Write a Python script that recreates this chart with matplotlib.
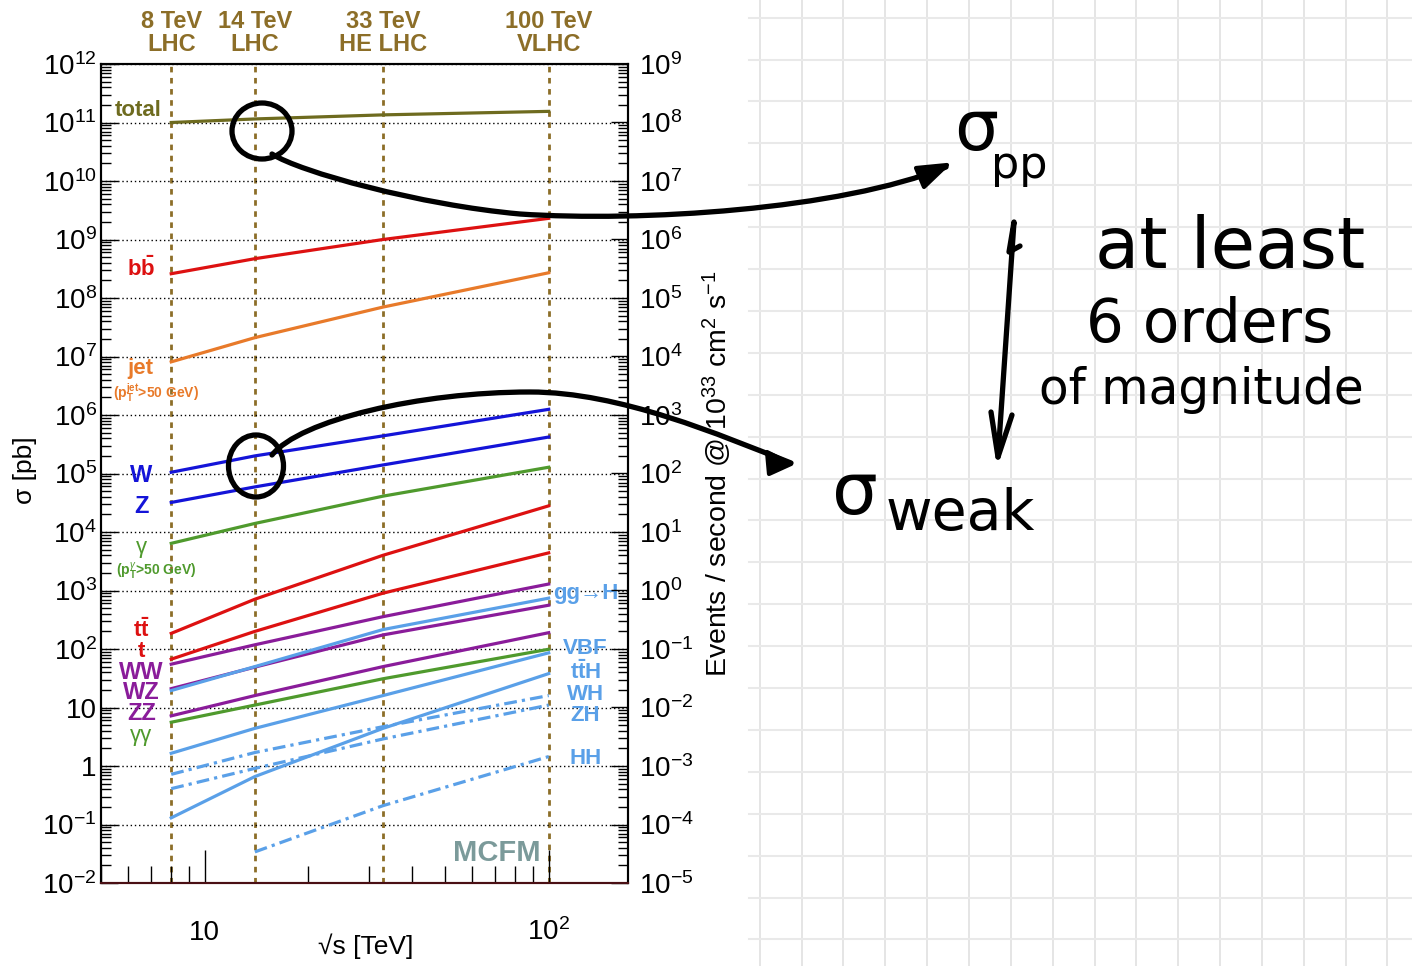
import numpy as np
import matplotlib.pyplot as plt
from matplotlib.ticker import FixedLocator, LogLocator, FuncFormatter, NullFormatter
from matplotlib.path import Path
from matplotlib.patches import PathPatch, Ellipse, Polygon

plt.rcParams['font.family'] = ['Liberation Sans', 'DejaVu Sans']
plt.rcParams['mathtext.fontset'] = 'custom'
plt.rcParams['mathtext.rm'] = 'Liberation Sans'
plt.rcParams['mathtext.it'] = 'Liberation Sans:italic'
plt.rcParams['mathtext.bf'] = 'Liberation Sans:bold'

# collider energies [TeV]
energies = [8, 14, 33, 100]
energies_HH = [14, 33, 100]
colliders = ['8 TeV\nLHC', '14 TeV\nLHC', '33 TeV\nHE LHC', '100 TeV\nVLHC']

# cross sections [pb]
sigma_total = [1.0e11, 1.15e11, 1.35e11, 1.55e11]
sigma_bb = [2.6e8, 4.7e8, 1.0e9, 2.3e9]
sigma_jet = [8.1e6, 2.1e7, 7.0e7, 2.7e8]
sigma_W = [1.05e5, 2.0e5, 4.4e5, 1.25e6]
sigma_Z = [3.2e4, 5.9e4, 1.4e5, 4.2e5]
sigma_gamma = [6.4e3, 1.4e4, 4.1e4, 1.28e5]
sigma_tt = [185, 710, 4.0e3, 2.8e4]
sigma_t = [67, 200, 900, 4.4e3]
sigma_WW = [55, 118, 357, 1.29e3]
sigma_WZ = [21, 49, 174, 560]
sigma_ZZ = [7.2, 16, 50, 190]
sigma_gaga = [5.6, 11, 31, 99]
sigma_ggH = [19.5, 50, 215, 740]
sigma_VBF = [1.65, 4.4, 16, 86]
sigma_ttH = [0.13, 0.66, 4.4, 38]
sigma_WH = [0.72, 1.7, 4.7, 16]
sigma_ZH = [0.41, 0.91, 2.9, 11]
sigma_HH = [0.034, 0.21, 1.45]

c_total = '#6e6b1f'
c_red = '#dd1111'
c_orange = '#e87a2a'
c_blue = '#1414d8'
c_green = '#4f9a2d'
c_purple = '#8a1c9a'
c_lblue = '#5aa0e8'
c_brown = '#8c6e28'

W, H = 1412, 966
fig = plt.figure(figsize=(W / 100, H / 100), dpi=100)

# squared paper on the right
bg = fig.add_axes([0, 0, 1, 1], zorder=0)
bg.set_xlim(0, W)
bg.set_ylim(H, 0)
bg.axis('off')
for gx in np.arange(759.7, W, 41.85):
    bg.plot([gx, gx], [0, H], color='#e0e0e0', lw=1.2)
for gy in np.arange(17.7, H, 41.9):
    bg.plot([749, W], [gy, gy], color='#e9e9e9', lw=1.5)

# main plot
ax = fig.add_axes([101 / W, 1 - 883 / H, 527 / W, 819 / H], zorder=1)
ax.set_xscale('log')
ax.set_yscale('log')
ax.set_xlim(5, 170)
ax.set_ylim(1e-2, 1e12)

for e in energies:
    ax.axvline(e, color=c_brown, lw=2.0, linestyle=(0, (2, 2)), zorder=1.5)

solid = [(sigma_total, c_total), (sigma_bb, c_red), (sigma_jet, c_orange),
         (sigma_W, c_blue), (sigma_Z, c_blue), (sigma_gamma, c_green),
         (sigma_tt, c_red), (sigma_t, c_red), (sigma_WW, c_purple),
         (sigma_WZ, c_purple), (sigma_ZZ, c_purple), (sigma_gaga, c_green),
         (sigma_ggH, c_lblue), (sigma_VBF, c_lblue), (sigma_ttH, c_lblue)]
for y, c in solid:
    ax.plot(energies, y, color=c, lw=2.3, zorder=3)
for y in [sigma_WH, sigma_ZH]:
    ax.plot(energies, y, color=c_lblue, lw=2.3, dashes=(4, 1.6, 1, 1.6), zorder=3)
ax.plot(energies_HH, sigma_HH, color=c_lblue, lw=2.3, dashes=(4, 1.6, 1, 1.6), zorder=3)

# axes, ticks
ax.yaxis.set_major_locator(FixedLocator(10.0 ** np.arange(-2, 13)))
ax.yaxis.set_minor_locator(LogLocator(base=10, subs=np.arange(2, 10), numticks=100))
ax.yaxis.set_minor_formatter(NullFormatter())

def left_fmt(v, pos):
    n = int(round(np.log10(v)))
    if n == 0:
        return '1'
    if n == 1:
        return '10'
    return r'$\mathdefault{10^{%d}}$' % n

ax.yaxis.set_major_formatter(FuncFormatter(left_fmt))
ax.xaxis.set_major_locator(FixedLocator([10, 100]))
ax.xaxis.set_minor_locator(LogLocator(base=10, subs=np.arange(2, 10), numticks=100))
ax.xaxis.set_minor_formatter(NullFormatter())
ax.xaxis.set_major_formatter(FuncFormatter(lambda v, p: '10' if v < 50 else r'$\mathdefault{10^{2}}$'))
ax.tick_params(axis='y', which='major', direction='in', length=12, width=1, labelsize=20, pad=3, right=False)
ax.tick_params(axis='y', which='minor', direction='in', length=7, width=1, right=False)
ax.tick_params(axis='x', which='major', direction='in', length=24, width=1, labelsize=20, pad=41, top=False)
ax.tick_params(axis='x', which='minor', direction='in', length=12, width=1, top=False)
plt.setp(ax.get_xticklabels(), va='baseline')
ax.grid(True, which='major', axis='y', color='k', linestyle=(0, (1, 2)), lw=1.0, zorder=1)

ax2 = ax.twinx()
ax2.set_yscale('log')
ax2.set_ylim(1e-5, 1e9)
ax2.yaxis.set_major_locator(FixedLocator(10.0 ** np.arange(-5, 10)))
ax2.yaxis.set_minor_locator(LogLocator(base=10, subs=np.arange(2, 10), numticks=100))
ax2.yaxis.set_minor_formatter(NullFormatter())
ax2.yaxis.set_major_formatter(FuncFormatter(lambda v, p: r'$\mathdefault{10^{%d}}$' % int(round(np.log10(v)))))
ax2.tick_params(axis='y', which='major', direction='in', length=12, width=1, labelsize=20, pad=8)
ax2.tick_params(axis='y', which='minor', direction='in', length=7, width=1)
for a in (ax, ax2):
    for s in a.spines.values():
        s.set_linewidth(1.5)
    a.spines['bottom'].set_color('#4a0f14')

# collider labels on top
for e, lab in zip(energies, colliders):
    ax.text(e, 1.038, lab, transform=ax.get_xaxis_transform(), ha='center', va='center',
            fontsize=17, fontweight='bold', color=c_brown, linespacing=1.0)

# process labels
left_labels = [
    ('total', 6.4, 1.6e11, c_total, 16, 'bold'),
    (r'$\mathbf{b\bar{b}}$', 6.55, 3.2e8, c_red, 16, 'bold'),
    ('jet', 6.5, 6.3e6, c_orange, 16, 'bold'),
    (r'(p$_{\mathbf{T}}^{\mathbf{jet}}$>50 GeV)', 7.24, 2.3e6, c_orange, 10, 'bold'),
    ('W', 6.55, 9.3e4, c_blue, 17, 'bold'),
    ('Z', 6.55, 2.7e4, c_blue, 17, 'bold'),
    ('γ', 6.55, 5.5e3, c_green, 16, 'normal'),
    (r'(p$_{\mathbf{T}}^{γ}$>50 GeV)', 7.24, 2.1e3, c_green, 10, 'bold'),
    (r'$\mathbf{t\bar{t}}$', 6.55, 211, c_red, 16, 'bold'),
    ('t', 6.55, 89, c_red, 16, 'bold'),
    ('WW', 6.55, 40, c_purple, 17, 'bold'),
    ('WZ', 6.55, 18, c_purple, 17, 'bold'),
    ('ZZ', 6.55, 7.8, c_purple, 17, 'bold'),
    ('γγ', 6.55, 3.3, c_green, 16, 'normal'),
]
right_labels = [
    ('gg→H', 906),
    ('VBF', 104),
    (r'$\mathbf{t\bar{t}H}$', 40),
    ('WH', 17),
    ('ZH', 7.2),
    ('HH', 1.37),
]
for txt, x, y, c, fs, fw in left_labels:
    ax.text(x, y, txt, color=c, fontsize=fs, fontweight=fw, ha='center', va='center', zorder=4)
for txt, y in right_labels:
    ax.text(128, y, txt, color=c_lblue, fontsize=16, fontweight='bold', ha='center', va='center', zorder=4)
ax.text(70.5, 0.033, 'MCFM', color='#7b9a9a', fontsize=21, fontweight='bold', ha='center', va='center')

fig.text(25 / W, 1 - 470 / H, 'σ [pb]', rotation=90, ha='center', va='center', fontsize=19)
fig.text(366 / W, 1 - 946 / H, '√s [TeV]', ha='center', va='center', fontsize=19)
fig.text(717 / W, 1 - 474 / H, r'Events / second @ 10$^{33}$ cm$^{2}$ s$^{-1}$',
         rotation=90, ha='center', va='center', fontsize=20.5)

# handwritten notes
ov = fig.add_axes([0, 0, 1, 1], zorder=5)
ov.set_xlim(0, W)
ov.set_ylim(H, 0)
ov.axis('off')
pen = dict(lw=3.8, ec='k', capstyle='round', joinstyle='round')
C4 = Path.CURVE4
ov.add_patch(Ellipse((262, 131), 60, 56, fill=False, **pen))
ov.add_patch(PathPatch(Path([(272, 154), (300, 172), (420, 205), (520, 214), (640, 222), (840, 210), (946, 167)],
                            [Path.MOVETO, C4, C4, C4, C4, C4, C4]), fill=False, **pen))
ov.add_patch(Polygon([(916, 168), (947, 165), (924, 187)], closed=True, fc='k', lw=3, ec='k', joinstyle='round'))
ov.add_patch(Ellipse((256, 466), 55, 62, fill=False, **pen))
ov.add_patch(PathPatch(Path([(272, 455), (300, 420), (420, 392), (530, 392), (620, 392), (720, 435), (791, 463)],
                            [Path.MOVETO, C4, C4, C4, C4, C4, C4]), fill=False, **pen))
ov.add_patch(Polygon([(767, 452), (791, 464), (769, 474)], closed=True, fc='k', lw=3, ec='k', joinstyle='round'))
ov.plot([1020, 1009, 1014, 998], [246, 252, 222, 457], color='k', lw=3.8, solid_capstyle='round', solid_joinstyle='round')
ov.plot([991, 998, 1012], [412, 457, 415], color='k', lw=3.8, solid_capstyle='round', solid_joinstyle='round')

hand = dict(color='k', family='DejaVu Sans', ha='left', va='baseline')
ov.text(954, 150, 'σ', fontsize=50, **hand)
ov.text(991, 178, 'pp', fontsize=32, **hand)
ov.text(1095, 268, 'at least', fontsize=52, **hand)
ov.text(1086, 342, '6 orders', fontsize=43, **hand)
ov.text(1039, 404, 'of magnitude', fontsize=35, **hand)
ov.text(832, 514, 'σ', fontsize=52, **hand)
ov.text(886, 530, 'weak', fontsize=41, **hand)

fig.savefig('out.png', dpi=100)
